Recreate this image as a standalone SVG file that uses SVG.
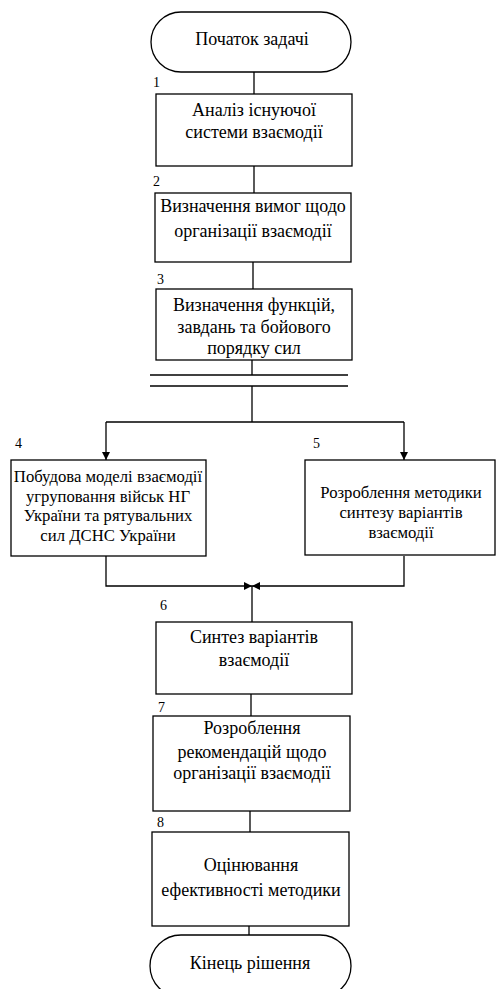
<svg xmlns="http://www.w3.org/2000/svg" width="496" height="989" viewBox="0 0 496 989">
<style>
.b{fill:#fff;stroke:#000;stroke-width:1.3}
.t{font-family:'Liberation Serif','Times New Roman',serif;font-size:18px;fill:#000;text-anchor:middle}
.s{font-size:16.7px}
.n{font-family:'Liberation Serif','Times New Roman',serif;font-size:14px;fill:#000}
.c{fill:none;stroke:#000;stroke-width:1.3}
</style>
<defs>
<marker id="ah" viewBox="0 0 10 10" refX="10" refY="5" markerWidth="8" markerHeight="8" markerUnits="userSpaceOnUse" orient="auto">
<path d="M0,0 L10,5 L0,10 z" fill="#000"/>
</marker>
</defs>
<rect width="496" height="989" fill="#fff"/>
<g id="connectors">
<path class="c" d="M254,72 V94"/>
<path class="c" d="M254,166 V193"/>
<path class="c" d="M253,262 V289"/>
<path class="c" d="M252,360 V375"/>
<path class="c" d="M150,375 H348"/>
<path class="c" d="M150,386 H348"/>
<path class="c" d="M252,386 V422"/>
<path class="c" d="M106,422 H404"/>
<path class="c" d="M106,422 V460" marker-end="url(#ah)"/>
<path class="c" d="M404,422 V460" marker-end="url(#ah)"/>
<path class="c" d="M106,556 V586 H252" marker-end="url(#ah)"/>
<path class="c" d="M404,556 V586 H252" marker-end="url(#ah)"/>
<path class="c" d="M252,586 V622"/>
<path class="c" d="M251,694 V716"/>
<path class="c" d="M250,811 V832"/>
<path class="c" d="M249,926 V935"/>
</g>
<g id="start">
<rect class="b" x="151" y="12" width="200" height="60" rx="30"/>
<text class="t" x="252" y="45">Початок задачі</text>
</g>
<g id="n1">
<text class="n" x="153" y="87">1</text>
<rect class="b" x="156" y="94" width="196" height="72"/>
<text class="t" x="254" y="116">Аналіз існуючої</text>
<text class="t" x="254" y="138">системи взаємодії</text>
</g>
<g id="n2">
<text class="n" x="153" y="186">2</text>
<rect class="b" x="155" y="193" width="196" height="69"/>
<text class="t" x="253" y="212">Визначення вимог щодо</text>
<text class="t" x="253" y="237">організації взаємодії</text>
</g>
<g id="n3">
<text class="n" x="157" y="284">3</text>
<rect class="b" x="156" y="289" width="196" height="71"/>
<text class="t" x="254" y="311">Визначення функцій,</text>
<text class="t" x="254" y="333">завдань та бойового</text>
<text class="t" x="254" y="354">порядку сил</text>
</g>
<g id="n4">
<text class="n" x="15" y="448">4</text>
<rect class="b" x="11" y="460" width="195" height="96"/>
<text class="t s" x="108" y="482">Побудова моделі взаємодії</text>
<text class="t s" x="108" y="502">угруповання військ НГ</text>
<text class="t s" x="108" y="521">України та рятувальних</text>
<text class="t s" x="108" y="541">сил ДСНС України</text>
</g>
<g id="n5">
<text class="n" x="313" y="448">5</text>
<rect class="b" x="305" y="460" width="190" height="95"/>
<text class="t s" x="401" y="498">Розроблення методики</text>
<text class="t s" x="401" y="518">синтезу варіантів</text>
<text class="t s" x="401" y="538">взаємодії</text>
</g>
<g id="n6">
<text class="n" x="160" y="610">6</text>
<rect class="b" x="156" y="622" width="196" height="72"/>
<text class="t" x="254" y="643">Синтез варіантів</text>
<text class="t" x="254" y="666">взаємодії</text>
</g>
<g id="n7">
<text class="n" x="158" y="712">7</text>
<rect class="b" x="153" y="716" width="197" height="95"/>
<text class="t" x="252" y="734">Розроблення</text>
<text class="t" x="252" y="758">рекомендацій щодо</text>
<text class="t" x="252" y="779">організації взаємодії</text>
</g>
<g id="n8">
<text class="n" x="157" y="827">8</text>
<rect class="b" x="152" y="832" width="197" height="94"/>
<text class="t" x="251" y="871">Оцінювання</text>
<text class="t" x="251" y="896">ефективності методики</text>
</g>
<g id="end">
<rect class="b" x="150" y="935" width="201" height="62" rx="31"/>
<text class="t" x="250" y="969">Кінець рішення</text>
</g>
</svg>
